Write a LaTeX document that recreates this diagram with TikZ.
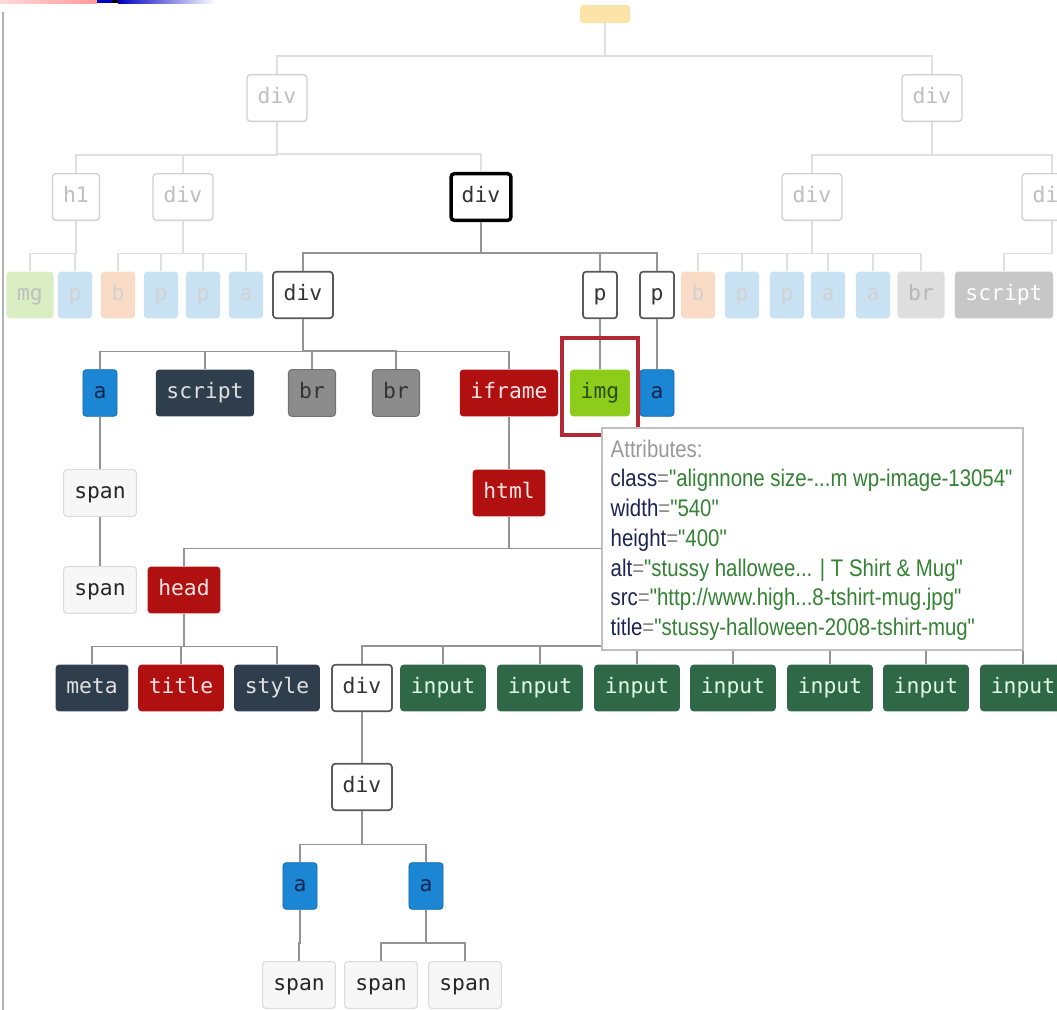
\documentclass[tikz,border=0pt]{standalone}
\usepackage{fontspec}
\newfontfamily\tagfont{DejaVu Sans Mono}
\newfontfamily\tipfont{Liberation Sans}[FakeStretch=0.85]
\definecolor{linkblue}{RGB}{26,134,212}
\definecolor{navytext}{RGB}{20,38,80}
\definecolor{slate}{RGB}{46,62,76}
\definecolor{darkred}{RGB}{176,16,16}
\definecolor{imggreen}{RGB}{142,204,28}
\definecolor{imgtext}{RGB}{40,78,20}
\definecolor{formgreen}{RGB}{47,104,70}
\definecolor{paleblue}{RGB}{200,226,243}
\definecolor{palepeach}{RGB}{250,220,198}
\definecolor{palegreen}{RGB}{218,238,196}
\definecolor{paleyellow}{RGB}{252,228,168}
\definecolor{selred}{RGB}{178,40,52}
\definecolor{attrname}{RGB}{28,36,84}
\definecolor{attrval}{RGB}{52,130,52}
\newcommand{\attr}[2]{\textcolor{attrname}{#1}\textcolor{black!45}{=}\textcolor{attrval}{"#2"}}
\begin{document}
\begin{tikzpicture}[x=0.75pt, y=-0.75pt,
	tag/.style={rounded corners=2.5pt, minimum height=35pt, inner xsep=8pt,
		inner ysep=0pt, text height=10pt, text depth=2.5pt,
		font=\tagfont\fontsize{16}{18}\selectfont},
	plain/.style={tag, fill=white, draw=black!65, line width=1.3pt, text=black!80},
	focus/.style={tag, fill=white, draw=black, line width=2.6pt, text=black!80},
	spantag/.style={tag, fill=black!3, draw=black!14, line width=0.8pt, text=black!85},
	anchortag/.style={tag, fill=linkblue, draw=linkblue!80!black, line width=0.6pt, text=navytext},
	darktag/.style={tag, fill=slate, text=black!12},
	brtag/.style={tag, fill=black!45, draw=black!55, line width=0.8pt, text=black!80},
	redtag/.style={tag, fill=darkred, text=white!90!red},
	imgtag/.style={tag, fill=imggreen, text=imgtext},
	inputtag/.style={tag, fill=formgreen, text=white!88!green},
	faded/.style={tag, fill=white, draw=black!18, line width=1pt, text=black!25},
	fadep/.style={tag, fill=paleblue, text=black!18},
	fadeb/.style={tag, fill=palepeach, text=black!18},
	fadeimg/.style={tag, fill=palegreen, text=black!25},
	fadebr/.style={tag, fill=black!13, text=black!28},
	fadescript/.style={tag, fill=black!22, text=white},
	rootbox/.style={rounded corners=2pt, fill=paleyellow, minimum width=37.5pt,
		minimum height=13.5pt, inner sep=0pt},
	ghost/.style={minimum height=35pt, inner sep=0pt},
	link/.style={draw=black!42, line width=1.1pt},
	faint/.style={draw=black!12, line width=1pt},
	fork/.style={to path={(\tikztostart.south) |- ([yshift=13.5pt]\tikztotarget.north)
		-- (\tikztotarget.north)}},
	hilite/.style={draw=selred, line width=2.4pt},
	tipbox/.style={fill=white, draw=black!25, line width=0.8pt,
		minimum width=315.75pt, minimum height=166.5pt, inner sep=0pt},
	tiptext/.style={font=\tipfont\fontsize{18}{22.3}\selectfont, align=left, inner sep=0pt},
]
\useasboundingbox (0,0) rectangle (1057,1010);
\clip (0,0) rectangle (1057,1010);

% screenshot edge
\shade[left color=red!15, right color=red!40] (0,0) rectangle (97,3);
\fill[blue!75!black] (97,0) rectangle (112,3);
\fill[black] (112,0) rectangle (118,3);
\shade[left color=blue!75!black, right color=white] (118,0) rectangle (215,3);
\draw[black!30, line width=1.5pt] (3,12) -- (3,1010);

% faded upper tree
\node[rootbox] (root) at (605,14) {};
\node[faded] (d1) at (277,98) {div};
\node[faded] (d2) at (932,98) {div};
\node[faded] (h1) at (76,197) {h1};
\node[faded] (d11) at (183,197) {div};
\node[focus] (d12) at (481,197) {div};
\node[faded] (d21) at (812,197) {div};
\node[faded] (d22) at (1052,197) {div};

\node[fadeimg] (l1) at (30,295) {mg};
\node[fadep] (l2) at (75,295) {p};
\node[fadeb] (l3) at (118,295) {b};
\node[fadep] (l4) at (161,295) {p};
\node[fadep] (l5) at (203,295) {p};
\node[fadep] (l6) at (246,295) {a};
\node[fadeb] (r1) at (698,295) {b};
\node[fadep] (r2) at (742,295) {p};
\node[fadep] (r3) at (787,295) {p};
\node[fadep] (r4) at (828,295) {a};
\node[fadep] (r5) at (873,295) {a};
\node[fadebr] (r6) at (921,295) {br};
\node[fadescript] (r7) at (1004,295) {script};

\foreach \c in {d1,d2} \draw[faint] (root) to[fork] (\c);
\foreach \c in {h1,d11,d12} \draw[faint] (d1) to[fork] (\c);
\foreach \c in {d21,d22} \draw[faint] (d2) to[fork] (\c);
\foreach \c in {l1,l2} \draw[faint] (h1) to[fork] (\c);
\foreach \c in {l3,l4,l5,l6} \draw[faint] (d11) to[fork] (\c);
\foreach \c in {r1,r2,r3,r4,r5,r6} \draw[faint] (d21) to[fork] (\c);
\draw[faint] (d22) to[fork] (r7);

% selected subtree
\node[plain] (box) at (303,295) {div};
\node[plain] (p1) at (600,295) {p};
\node[plain] (p2) at (657,295) {p};

\node[anchortag] (a1) at (100,393) {a};
\node[darktag] (scr) at (205,393) {script};
\node[brtag] (br1) at (312,393) {br};
\node[brtag] (br2) at (396,393) {br};
\node[redtag] (ifr) at (509,393) {iframe};
\node[imgtag] (img) at (600,393) {img};
\node[anchortag] (a2) at (657,393) {a};

\node[spantag] (sp1) at (100,493) {span};
\node[redtag] (html) at (509,493) {html};
\node[spantag] (sp2) at (100,590) {span};
\node[redtag] (head) at (184,590) {head};
\node[ghost] (body) at (700,590) {};

\node[darktag] (meta) at (92,688) {meta};
\node[redtag] (ttl) at (181,688) {title};
\node[darktag] (sty) at (277,688) {style};
\node[plain] (inner) at (362,688) {div};
\foreach \x [count=\i] in {443,540,637,733,830,926,1023}
	\node[inputtag] (in\i) at (\x,688) {input};

\node[plain] (wrap) at (362,787) {div};
\node[anchortag] (a3) at (300,886) {a};
\node[anchortag] (a4) at (426,886) {a};
\node[spantag] (sp3) at (299,985) {span};
\node[spantag] (sp4) at (381,985) {span};
\node[spantag] (sp5) at (465,985) {span};

\foreach \c in {box,p1,p2} \draw[link] (d12) to[fork] (\c);
\foreach \c in {a1,scr,br1,br2,ifr} \draw[link] (box) to[fork] (\c);
\draw[link] (p1) to[fork] (img);
\draw[link] (p2) to[fork] (a2);
\draw[link] (a1) to[fork] (sp1);
\draw[link] (sp1) to[fork] (sp2);
\draw[link] (ifr) to[fork] (html);
\foreach \c in {head,body} \draw[link] (html) to[fork] (\c);
\foreach \c in {meta,ttl,sty} \draw[link] (head) to[fork] (\c);
\foreach \c in {inner,in1,in2,in3,in4,in5,in6,in7} \draw[link] (body) to[fork] (\c);
\draw[link] (inner) to[fork] (wrap);
\foreach \c in {a3,a4} \draw[link] (wrap) to[fork] (\c);
\draw[link] (a3) to[fork] (sp3);
\foreach \c in {sp4,sp5} \draw[link] (a4) to[fork] (\c);

\draw[hilite] ([shift={(-38,-55)}]img.center) rectangle ([shift={(38,42)}]img.center);

% attribute tooltip
\node[tipbox] (tip) at (812.5,539) {};
\node[tiptext, anchor=north west] (attrs) at ([shift={(9,12)}]tip.north west) {%
	\textcolor{black!40}{Attributes:}\\
	\attr{class}{alignnone size-...m wp-image-13054}\\
	\attr{width}{540}\\
	\attr{height}{400}\\
	\attr{alt}{stussy hallowee... | T Shirt \& Mug}\\
	\attr{src}{http://www.high...8-tshirt-mug.jpg}\\
	\attr{title}{stussy-halloween-2008-tshirt-mug}};
\end{tikzpicture}
\end{document}
